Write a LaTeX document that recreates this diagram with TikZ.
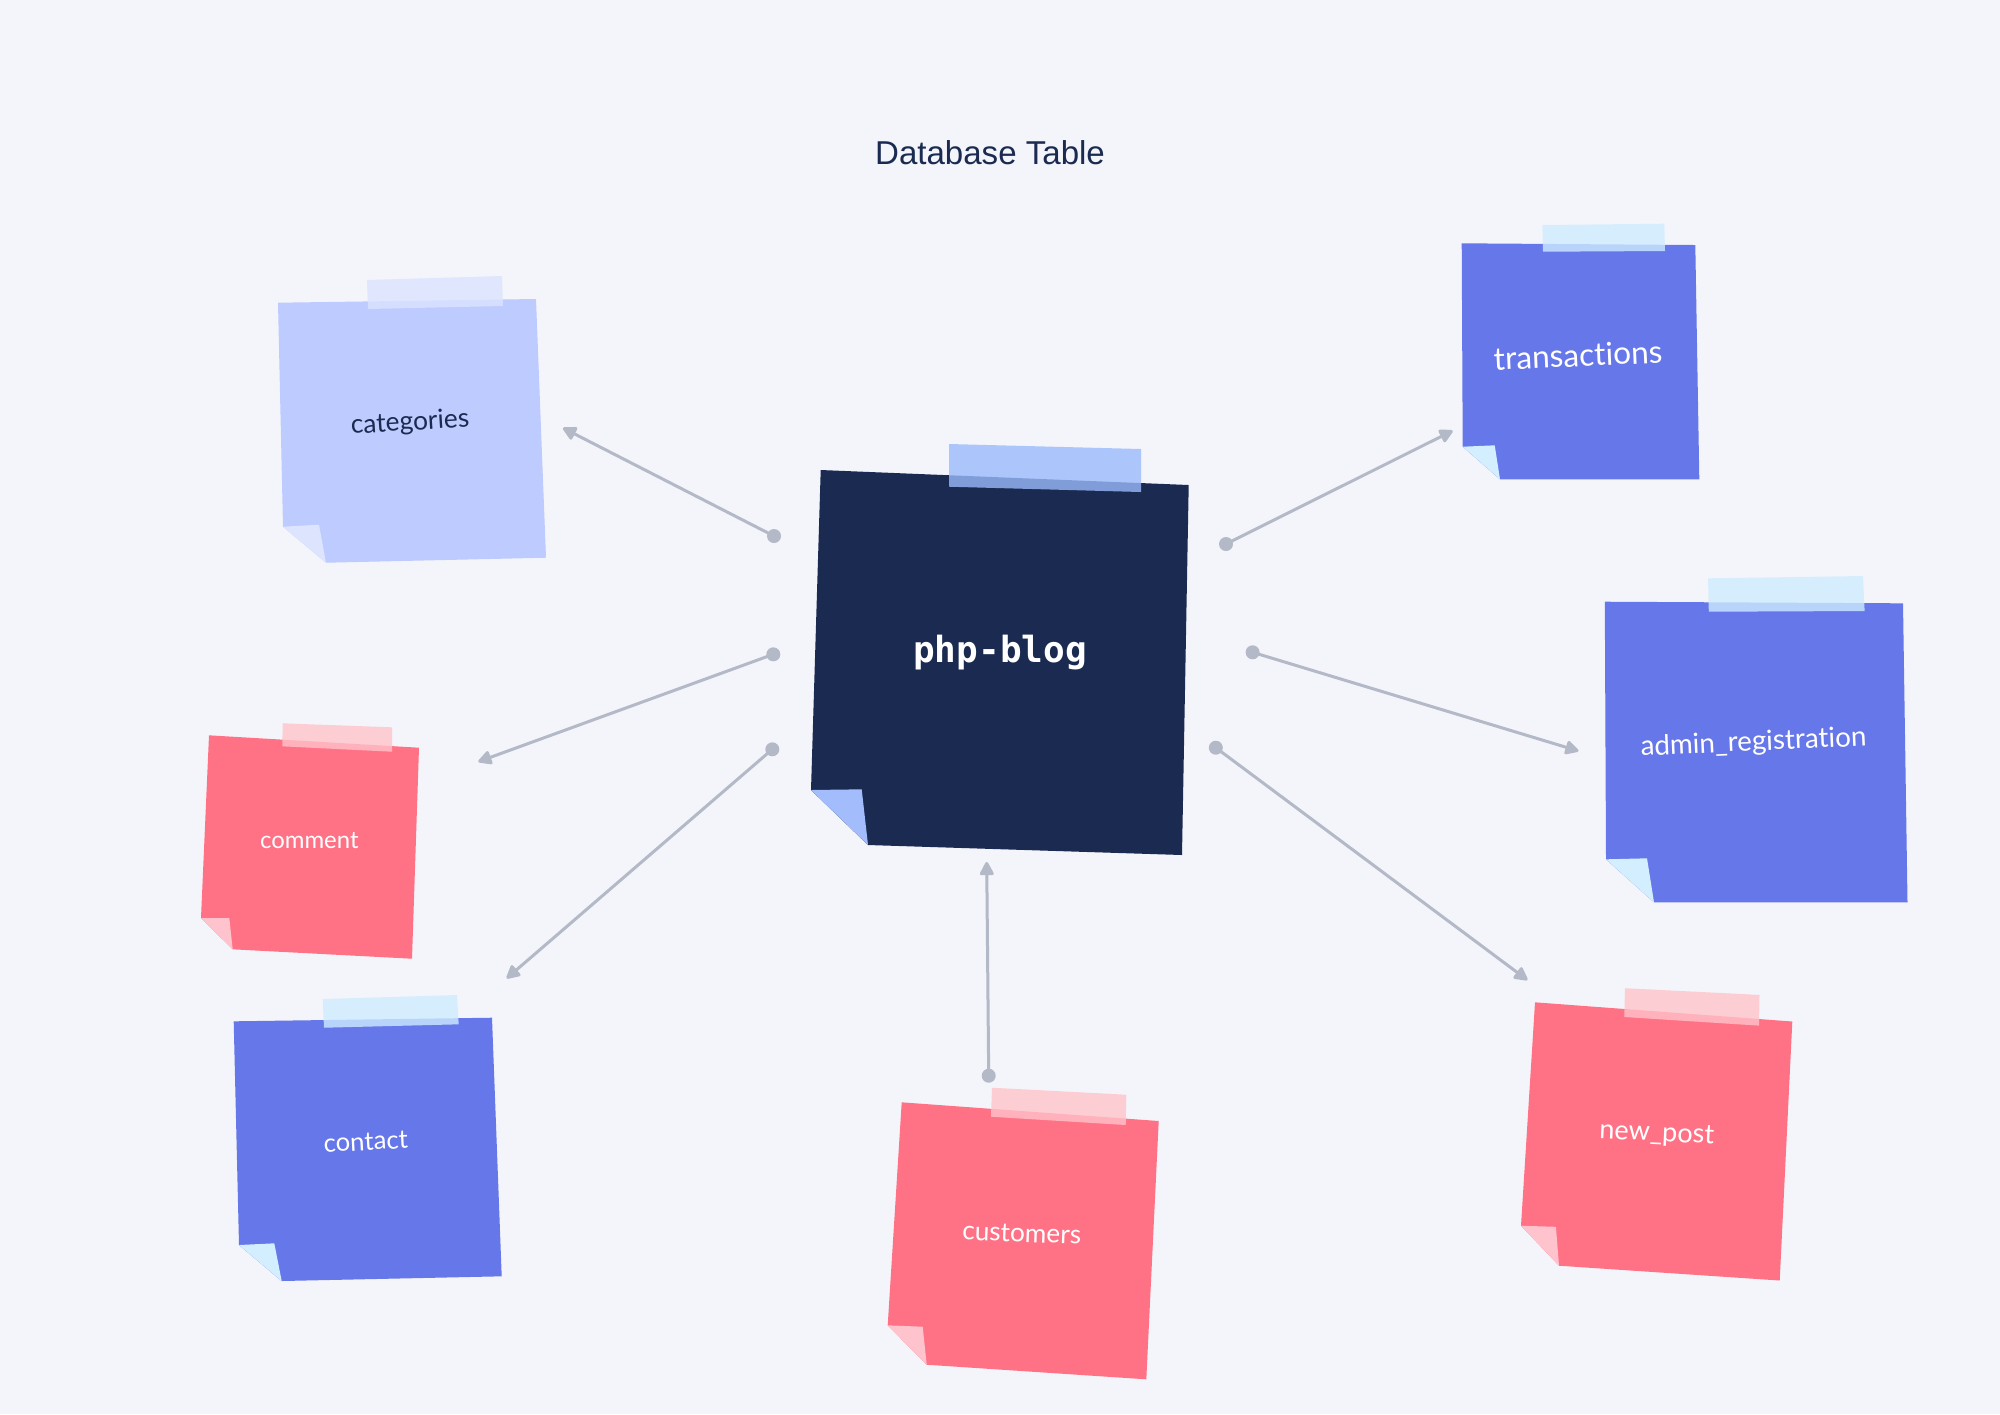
\documentclass[tikz,border=0pt]{standalone}
\usepackage{fontspec}
\usepackage{tikz}
\usetikzlibrary{arrows.meta}
\newfontfamily\notefont[Ligatures=NoCommon]{Lato}
\newfontfamily\titlefont{Liberation Sans}
\newfontfamily\blogfont{DejaVu Sans Mono}

\definecolor{bgpaper}{HTML}{F4F5FA}
\definecolor{inkblue}{HTML}{1A2A50}
\definecolor{linkgray}{HTML}{B4B9C8}
\definecolor{navy}{HTML}{1A2A50}
\definecolor{navyfold}{HTML}{A3BCFC}
\definecolor{navytape}{HTML}{9BBAFC}
\definecolor{lilac}{HTML}{BDCBFE}
\definecolor{lilacfold}{HTML}{DDE4FE}
\definecolor{lilactape}{HTML}{DBE3FE}
\definecolor{blue}{HTML}{6677EA}
\definecolor{bluefold}{HTML}{D3EEFF}
\definecolor{bluetape}{HTML}{CEECFE}
\definecolor{pink}{HTML}{FF7285}
\definecolor{pinkfold}{HTML}{FEC3CC}
\definecolor{pinktape}{HTML}{FFC3CA}

\tikzset{
    notebody/.style={fill=#1},
    notefold/.style={fill=#1fold},
    notetape/.style={fill=#1tape, fill opacity=0.8},
    notetext/.style={font=\notefont\fontsize{#1}{#1}\selectfont, text=white, inner sep=0pt},
    link/.style={draw=linkgray, line width=0.03cm, -{Triangle[length=0.15cm, width=0.15cm, round]}},
    linkdot/.style={fill=linkgray}
}
% one sticky note from the coordinates #1-tl ... #1-t4
\newcommand{\postit}[2]{
    \fill[notebody=#2] (#1-tl) -- (#1-tr) -- (#1-br) -- (#1-fb) -- (#1-fc) -- cycle;
    \fill[notefold=#2] (#1-fc) -- (#1-fi) -- (#1-fb) -- cycle;
    \fill[notetape=#2] (#1-t1) -- (#1-t2) -- (#1-t3) -- (#1-t4) -- cycle;
}

\begin{document}
\begin{tikzpicture}[x=0.01cm, y=-0.01cm]
    \def \dotr {0.07cm}
    \fill[bgpaper] (0,0) rectangle (2000,1414);

    \node[font=\titlefont\fontsize{9.4pt}{11pt}\selectfont, text=inkblue, inner sep=0pt, anchor=base] (title) at (990,164.3) {Database Table};

    % php-blog
    \coordinate (bl-tl) at (820.7,470);  \coordinate (bl-tr) at (1188.7,485);
    \coordinate (bl-br) at (1182,855);   \coordinate (bl-fb) at (868,845);
    \coordinate (bl-fc) at (811,790);    \coordinate (bl-fi) at (861.7,789.3);
    \coordinate (bl-t1) at (949,444);    \coordinate (bl-t2) at (1141,449);
    \coordinate (bl-t3) at (1141,492);   \coordinate (bl-t4) at (949,486.7);
    % categories
    \coordinate (ca-tl) at (278,302.7);  \coordinate (ca-tr) at (536,299);
    \coordinate (ca-br) at (546,557.7);  \coordinate (ca-fb) at (326,562.7);
    \coordinate (ca-fc) at (283,526.7);  \coordinate (ca-fi) at (319,524.7);
    \coordinate (ca-t1) at (367,280);    \coordinate (ca-t2) at (502,276);
    \coordinate (ca-t3) at (503,306);    \coordinate (ca-t4) at (368,309);
    % transactions
    \coordinate (tr-tl) at (1461.7,243.3); \coordinate (tr-tr) at (1695.3,245);
    \coordinate (tr-br) at (1699.3,479.3); \coordinate (tr-fb) at (1500,479.3);
    \coordinate (tr-fc) at (1462.7,446.7); \coordinate (tr-fi) at (1494.7,445.3);
    \coordinate (tr-t1) at (1542.3,225);   \coordinate (tr-t2) at (1664.3,223.7);
    \coordinate (tr-t3) at (1665,251);     \coordinate (tr-t4) at (1543,251.7);
    % admin_registration
    \coordinate (ad-tl) at (1604.8,601.7); \coordinate (ad-tr) at (1903,603.3);
    \coordinate (ad-br) at (1907.5,902.3); \coordinate (ad-fb) at (1654,902.3);
    \coordinate (ad-fc) at (1606,859.3);   \coordinate (ad-fi) at (1647,858.3);
    \coordinate (ad-t1) at (1708,578.3);   \coordinate (ad-t2) at (1863,576);
    \coordinate (ad-t3) at (1864.6,611);   \coordinate (ad-t4) at (1708.8,611.7);
    % comment
    \coordinate (co-tl) at (209,735.3);    \coordinate (co-tr) at (419,747.7);
    \coordinate (co-br) at (412,958.7);    \coordinate (co-fb) at (232.7,949.3);
    \coordinate (co-fc) at (201,918);      \coordinate (co-fi) at (229.3,918);
    \coordinate (co-t1) at (282.7,723.3);  \coordinate (co-t2) at (392,727.3);
    \coordinate (co-t3) at (392,751.7);    \coordinate (co-t4) at (282.3,746.3);
    % contact
    \coordinate (ct-tl) at (233.7,1021.3); \coordinate (ct-tr) at (492,1017.7);
    \coordinate (ct-br) at (501.7,1276.3); \coordinate (ct-fb) at (281.7,1281);
    \coordinate (ct-fc) at (239,1245);     \coordinate (ct-fi) at (274.3,1243.3);
    \coordinate (ct-t1) at (322.7,999);    \coordinate (ct-t2) at (457,995);
    \coordinate (ct-t3) at (458.7,1024.3); \coordinate (ct-t4) at (324,1027.7);
    % customers
    \coordinate (cu-tl) at (901.7,1102.3); \coordinate (cu-tr) at (1158.7,1121);
    \coordinate (cu-br) at (1146.3,1379.3);\coordinate (cu-fb) at (926.7,1364.7);
    \coordinate (cu-fc) at (887.7,1325.3); \coordinate (cu-fi) at (922.7,1326.7);
    \coordinate (cu-t1) at (992,1087.7);   \coordinate (cu-t2) at (1126.3,1094.7);
    \coordinate (cu-t3) at (1125.7,1125);  \coordinate (cu-t4) at (991,1116.7);
    % new_post
    \coordinate (np-tl) at (1535,1002.3);  \coordinate (np-tr) at (1792.3,1021.5);
    \coordinate (np-br) at (1779.7,1280.5);\coordinate (np-fb) at (1559,1265.7);
    \coordinate (np-fc) at (1521,1225.7);  \coordinate (np-fi) at (1555.9,1226.8);
    \coordinate (np-t1) at (1625,988.2);   \coordinate (np-t2) at (1759.5,994.9);
    \coordinate (np-t3) at (1759,1025.6);  \coordinate (np-t4) at (1624.3,1017);

    \postit{bl}{navy}
    \postit{ca}{lilac}
    \postit{tr}{blue}
    \postit{ad}{blue}
    \postit{co}{pink}
    \postit{ct}{blue}
    \postit{cu}{pink}
    \postit{np}{pink}

    \node[font=\blogfont\bfseries\fontsize{10.25pt}{12pt}\selectfont, text=white, inner sep=0pt] (blog) at (1000,653) {php-blog};
    \node[notetext=7.5pt, text=inkblue, rotate=3.5] (categories) at (410,423) {categories};
    \node[notetext=9pt, rotate=2.5] (transactions) at (1578,355) {transactions};
    \node[notetext=7.9pt, rotate=2.5] (admin) at (1753.5,743) {admin\_registration};
    \node[notetext=6.8pt] (comment) at (309.3,840.7) {comment};
    \node[notetext=7.3pt, rotate=3] (contact) at (365.7,1141.7) {contact};
    \node[notetext=7.45pt, rotate=-2] (customers) at (1021.7,1233.3) {customers};
    \node[notetext=7.7pt, rotate=-2.5] (newpost) at (1656.7,1134.4) {new\_post};

    % connector ends
    \coordinate (d1) at (774,536);      \coordinate (a1) at (563,428);
    \coordinate (d2) at (773.3,654.3);  \coordinate (a2) at (478.3,761.7);
    \coordinate (d3) at (772.3,749.3);  \coordinate (a3) at (506.7,978.3);
    \coordinate (d4) at (988.7,1075.7); \coordinate (a4) at (986.7,862);
    \coordinate (d5) at (1226,544);     \coordinate (a5) at (1452.7,430.7);
    \coordinate (d6) at (1252.6,652.3); \coordinate (a6) at (1578.5,751);
    \coordinate (d7) at (1215.8,747.7); \coordinate (a7) at (1527.4,980);
    \foreach \i in {1,...,7}{
        \draw[link] (d\i) -- (a\i);
        \fill[linkdot] (d\i) circle (\dotr);
    }
\end{tikzpicture}
\end{document}
